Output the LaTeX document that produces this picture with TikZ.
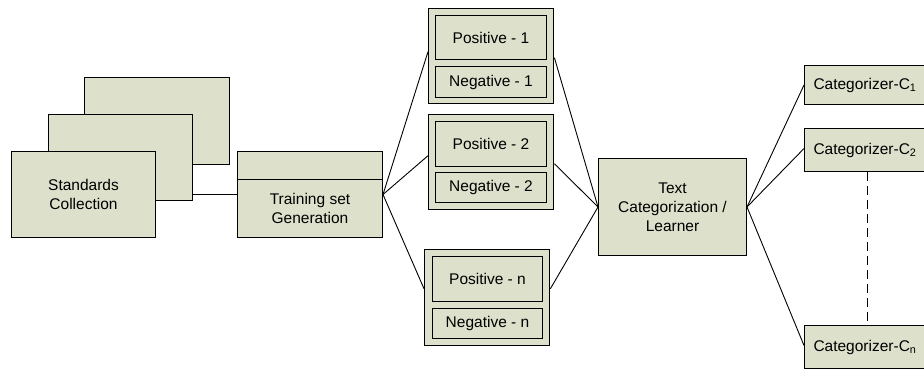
\documentclass[tikz,border=0pt]{standalone}
\usepackage{fontspec}
\setmainfont{Liberation Sans}
\usetikzlibrary{backgrounds}
\definecolor{boxfill}{HTML}{DDE0CB}
\begin{document}
\begin{tikzpicture}[x=1pt,y=-1pt,
  box/.style={draw, fill=boxfill, line width=1pt, inner sep=0pt, anchor=north west,
    font=\fontsize{15.5}{19}\selectfont, align=center},
  grp/.style={box, line width=1.4pt},
  cat/.style={box, align=left, text width=108pt, inner xsep=9pt, inner ysep=0pt},
  conn/.style={draw, line width=0.9pt},
  dash/.style={}]
\useasboundingbox (0,0) rectangle (924,368);
\clip (0,0) rectangle (924,368);
% standards stack
\node[box, minimum width=145pt, minimum height=87pt] (std3) at (84,77) {};
\node[box, minimum width=144pt, minimum height=86pt] (std2) at (48,114) {};
\node[box, minimum width=144pt, minimum height=86pt] (std1) at (11,151) {Standards\\Collection};
% training
\node[box, minimum width=145pt, minimum height=28pt] (trtop) at (237,151) {};
\node[box, minimum width=145pt, minimum height=58pt] (trbot) at (237,179) {Training set\\Generation};
\coordinate (trout) at (std1.east -| trbot.east);
% groups
\node[grp, minimum width=125pt, minimum height=95pt] (g1) at (428,8) {};
\node[box, minimum width=111pt, minimum height=44pt] (p1) at (435,15) {Positive - 1};
\node[box, minimum width=111pt, minimum height=31pt] (n1) at (435,66) {Negative - 1};
\node[grp, minimum width=125pt, minimum height=95pt] (g2) at (428,114) {};
\node[box, minimum width=111pt, minimum height=45pt] (p2) at (435,121) {Positive - 2};
\node[box, minimum width=111pt, minimum height=30pt] (n2) at (435,172) {Negative - 2};
\node[grp, minimum width=125pt, minimum height=96pt] (g3) at (424,249) {};
\node[box, minimum width=110pt, minimum height=45pt] (p3) at (432,256) {Positive - n};
\node[box, minimum width=110pt, minimum height=30pt] (n3) at (432,308) {Negative - n};
% learner
\node[box, minimum width=148pt, minimum height=97pt] (tc) at (598,158) {Text\\Categorization /\\Learner};
% categorizers
\node[cat, minimum height=39pt] (c1) at (804,65) {Categorizer-C\textsubscript{1}};
\node[cat, minimum height=43pt] (c2) at (804,128) {Categorizer-C\textsubscript{2}};
\node[cat, minimum height=43pt] (cn) at (804,325) {Categorizer-C\textsubscript{n}};
% connectors
\begin{pgfonlayer}{background}
\draw[conn] (std1.east) -- (std1.east -| trbot.west);
\end{pgfonlayer}
\draw[conn] (trout) -- ([yshift=4.5pt]g1.west);
\draw[conn] (trout) -- ([yshift=6.5pt]g2.west);
\draw[conn] (trout) -- ([yshift=9pt]g3.west);
\draw[conn] ([yshift=-1.5pt]g1.east) -- (tc.west);
\draw[conn] ([yshift=-1.5pt]g2.east) -- (tc.west);
\draw[conn] ([yshift=9pt]g3.east) -- (tc.west);
\draw[conn] (tc.east) -- (c1.west);
\draw[conn] (tc.east) -- ([yshift=1.5pt]c2.west);
\draw[conn] (tc.east) -- ([yshift=1.5pt]cn.west);
\draw[conn, dash pattern=on 9pt off 5pt] (c2.south) -- (cn.north);
\end{tikzpicture}
\end{document}
